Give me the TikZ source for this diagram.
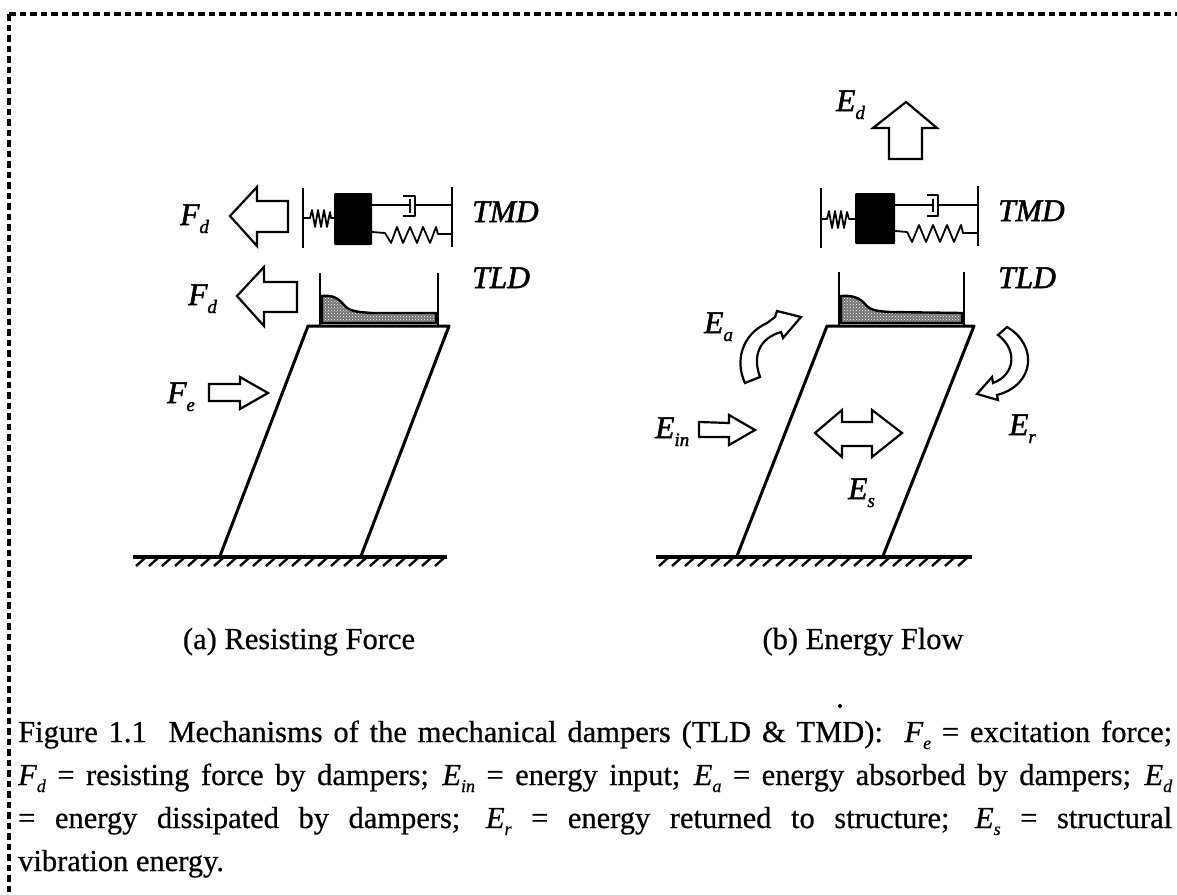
\documentclass[tikz,border=0pt]{standalone}
\usepackage{fontspec}
\setmainfont[FakeBold=0.6]{Liberation Serif}
\newfontfamily\labfam[FakeBold=1.6]{Liberation Serif}
\usetikzlibrary{patterns}
\newcommand\syma[2]{#1\raisebox{-8pt}{\fontsize{19}{19}\selectfont #2}}
\newcommand\symb[2]{\textit{#1\raisebox{-7pt}{\fontsize{18}{18}\selectfont #2}}}
\tikzset{
  x=1pt,y=-1pt,
  lab/.style={inner sep=0pt,anchor=base west,font=\fontsize{31.5}{32}\labfam\itshape},
  captext/.style={inner sep=0pt,anchor=base,font=\fontsize{30.5}{32}\selectfont},
  txtline/.style={inner sep=0pt,anchor=base west,font=\fontsize{30.5}{32}\selectfont},
  bigarrow/.style={draw=black,line width=2.2pt,fill=white,line join=miter},
  thin part/.style={draw=black,line width=1.8pt,line join=round},
  wall/.style={draw=black,line width=2.7pt},
  frame/.style={draw=black,line width=3pt,line join=round},
  hatch/.style={draw=black,line width=2.4pt},
  fluid/.style={preaction={fill=black!55},pattern=crosshatch dots,pattern color=white,draw=black,line width=2.4pt},
  border/.style={draw=black,line width=3.2pt,dash pattern=on 6.5pt off 4pt}
}
\begin{document}
\begin{tikzpicture}
\useasboundingbox (0,0) rectangle (1177,894);
\fill[white] (0,0) rectangle (1177,894);
\draw[border] (9,14) -- (1177,14);
\draw[border] (9,14) -- (9,894);
% --- (a)
\draw[bigarrow] (230,216)--(257,187)--(257,201)--(288,201)--(288,232)--(257,232)--(257,246)--cycle;
\draw[bigarrow] (237,296)--(264,267)--(264,282)--(297,282)--(297,312)--(264,312)--(264,326)--cycle;
\draw[bigarrow] (268,393)--(240,377)--(240,384)--(209,384)--(209,401)--(240,401)--(240,409)--cycle;
\draw[wall] (303,188)--(303,248);
\draw[wall] (452,187)--(452,247);
\fill[black,rounded corners=1pt] (334,193) rectangle (372,245);
\draw[thin part] (303,218)--(310,218)--(312,210)--(315,227)--(318,210)--(321,227)--(324,210)--(327,227)--(330,212)--(331,218)--(334,218);
\draw[thin part] (372,205)--(410,205) (410,199)--(410,213) (415,205)--(452,205);
\draw[thin part] (403,196)--(415,196)--(415,216)--(403,216);
\draw[thin part] (372,232)--(385,233)--(391,243)--(397,227)--(403,243)--(410,227)--(417,243)--(423,227)--(430,243)--(436,227)--(438,234)--(452,234);
\draw[fluid] (322,296)..controls (333,295) and (338,298) .. (344,305) .. controls (349,311) and (356,312) .. (372,313) -- (436,313)--(436,323)--(322,323)--cycle;
\draw[wall] (320,273)--(320,325);
\draw[wall] (438,273)--(438,325);
\draw[frame] (361,556)--(449,326)--(308,326)--(220,556);
\draw[line width=3.4pt] (133,557)--(447,557);
\foreach \hx in {145,158,...,445}{\draw[hatch] (\hx,558)--(\hx-9,566);}
% --- (b)
\draw[bigarrow] (906,102)--(873,128)--(889,128)--(889,159)--(922,159)--(922,128)--(937,128)--cycle;
\draw[wall] (821,188)--(821,248);
\draw[wall] (978,186)--(978,246);
\fill[black,rounded corners=1pt] (855,193) rectangle (895,244);
\draw[thin part] (821,219)--(827,219)--(829,211)--(832,228)--(835,211)--(838,228)--(841,211)--(844,228)--(847,212)--(849,219)--(855,219);
\draw[thin part] (895,205)--(933,205) (933,199)--(933,212) (938,205)--(978,205);
\draw[thin part] (927,195)--(938,195)--(938,216)--(927,216);
\draw[thin part] (895,231)--(907,232)--(912,242)--(919,225)--(926,242)--(933,225)--(940,242)--(947,225)--(954,242)--(961,225)--(963,233)--(978,233);
\draw[fluid] (841,296)..controls (852,295) and (860,298) .. (865,304) .. controls (870,310) and (875,311) .. (890,312) -- (962,313)--(962,323)--(841,323)--cycle;
\draw[wall] (839,272)--(839,325);
\draw[wall] (964,272)--(964,325);
\draw[frame] (883,556)--(974,326)--(827,326)--(737,556);
\draw[line width=3.4pt] (656,557)--(972,557);
\foreach \hx in {668,681,...,970}{\draw[hatch] (\hx,558)--(\hx-9,566);}
\draw[bigarrow] (755,430)--(729,415)--(729,423)--(699,422)--(699,437)--(729,437)--(729,445)--cycle;
\draw[bigarrow] (815,433)--(842,410)--(842,422)--(872,422)--(872,410)--(902,433)--(872,457)--(872,446)--(842,446)--(842,457)--cycle;
\draw[bigarrow] (745,383)..controls (735,362) and (741,335) .. (767,323)--(775,317)--(777,311)--(801,317)--(783,338)--(781,332)..controls (760,338) and (752,355) .. (760,377)--cycle;
\draw[bigarrow] (1007,327)--(998,335)..controls (1018,350) and (1015,375) .. (993,383)--(992,377)--(977,394)--(998,400)--(997,395)..controls (1035,385) and (1038,345) .. (1007,327)--cycle;
\fill[black] (840,706) circle (2);
% labels
\node[lab] (la) at (180,225) {\syma{F}{d}};
\node[lab] (lb) at (188,305) {\syma{F}{d}};
\node[lab] (lc) at (167,403) {\syma{F}{e}};
\node[lab] (ld) at (472,222) {TMD};
\node[lab] (le) at (472,288) {TLD};
\node[lab] (lf) at (998,221) {TMD};
\node[lab] (lg) at (998,288) {TLD};
\node[lab] (lh) at (836,111) {\syma{E}{d}};
\node[lab] (li) at (704,333) {\syma{E}{a}};
\node[lab] (lj) at (655,438) {\syma{E}{in}};
\node[lab] (lk) at (1009,435) {\syma{E}{r}};
\node[lab] (ll) at (848,499) {\syma{E}{s}};
\node[captext] (ca) at (299,649) {(a) Resisting Force};
\node[captext] (cb) at (863,649) {(b) Energy Flow};
\node[txtline] (t1) at (18,742) {\makebox[1154pt][s]{Figure 1.1\ \ Mechanisms of the mechanical dampers (TLD \& TMD):\ \ \symb{F}{e} = excitation force;}};
\node[txtline] (t2) at (18,785) {\makebox[1154pt][s]{\symb{F}{d} = resisting force by dampers; \symb{E}{in} = energy input; \symb{E}{a} = energy absorbed by dampers; \symb{E}{d}}};
\node[txtline] (t3) at (18,828) {\makebox[1154pt][s]{= energy dissipated by dampers; \symb{E}{r} = energy returned to structure; \symb{E}{s} = structural}};
\node[txtline] (t4) at (18,871) {vibration energy.};
\end{tikzpicture}
\end{document}
